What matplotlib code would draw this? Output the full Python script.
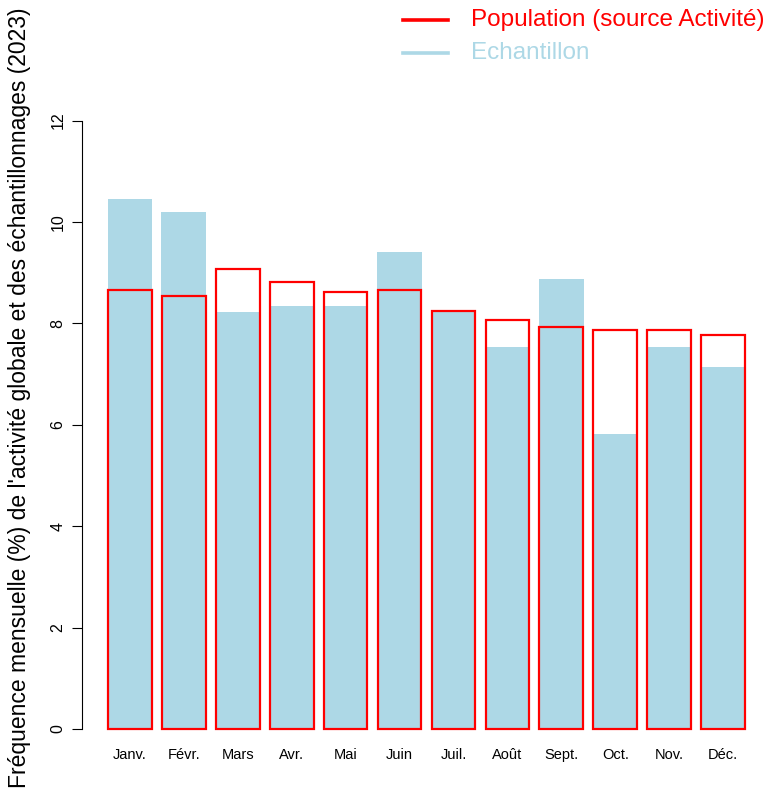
import numpy as np
import matplotlib
matplotlib.use("Agg")
import matplotlib.pyplot as plt
from matplotlib.lines import Line2D

plt.rcParams["font.family"] = ["Liberation Sans", "DejaVu Sans"]

months = ["Janv.", "Févr.", "Mars", "Avr.", "Mai", "Juin",
          "Juil.", "Août", "Sept.", "Oct.", "Nov.", "Déc."]
# frequence mensuelle (%) - echantillon
echantillon = [10.46, 10.20, 8.22, 8.35, 8.35, 9.40, 8.22, 7.54, 8.88, 5.82, 7.54, 7.15]
# population (source activite)
population = [8.66, 8.54, 9.08, 8.81, 8.62, 8.66, 8.24, 8.06, 7.93, 7.87, 7.87, 7.77]

W, H = 779, 796
fig = plt.figure(figsize=(W / 100, H / 100), dpi=100)
ax = fig.add_axes([82 / W, 0.0536, (771 - 82) / W, 0.879 - 0.0536])

x = np.arange(len(months))
w = 1 / 1.2
ax.bar(x, echantillon, width=w, color="#ADD8E6", edgecolor="none", zorder=1)
ax.bar(x, population, width=w * 0.97, fill=False, edgecolor="red", linewidth=1.6, zorder=2)

ax.set_xlim(-0.89, 11.89)
ax.set_ylim(-0.48, 12.48)
for s in ["top", "right", "bottom"]:
    ax.spines[s].set_visible(False)
ax.spines["left"].set_bounds(0, 12)
ax.spines["left"].set_position(("data", -0.89))
ax.set_yticks(range(0, 13, 2))
ax.set_yticklabels([str(v) for v in range(0, 13, 2)], rotation=90, va="center", fontsize=11.5)
ax.tick_params(axis="y", length=7, direction="out", pad=5)
ax.set_xticks(x)
ax.set_xticklabels(months, fontsize=10.5)
ax.tick_params(axis="x", length=0, pad=-3.5)

fig.text(20 / W, 0.5, "Fréquence mensuelle (%) de l'activité globale et des échantillonnages (2023)",
         rotation=90, ha="center", va="center", fontsize=16.5)

# legende en haut a droite
leg_items = [("Population (source Activité)", "red", 20), ("Echantillon", "#ADD8E6", 53)]
for label, col, ypx in leg_items:
    yf = 1 - ypx / H
    fig.add_artist(Line2D([403 / W, 448 / W], [yf, yf], color=col, lw=2.6))
    fig.text(471 / W, yf, label, color=col, fontsize=17.5, ha="left", va="center")

fig.savefig("out.png", dpi=100)
